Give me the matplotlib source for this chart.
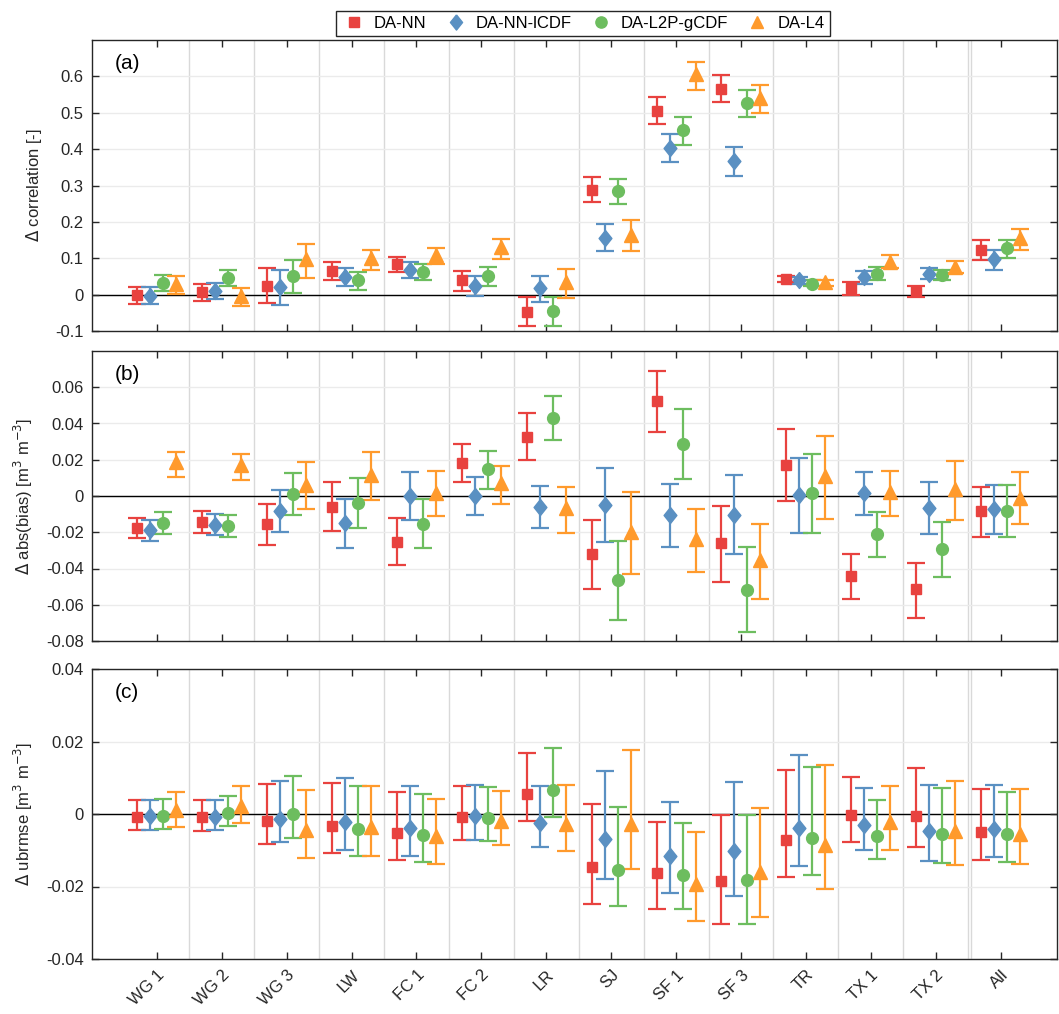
import matplotlib
matplotlib.use('Agg')
from matplotlib import pyplot
from matplotlib.lines import Line2D
import numpy

pyplot.rcParams['font.family'] = ['Liberation Sans', 'DejaVu Sans']
pyplot.rcParams['axes.unicode_minus'] = False

sites = ['WG 1', 'WG 2', 'WG 3', 'LW', 'FC 1', 'FC 2', 'LR', 'SJ',
         'SF 1', 'SF 3', 'TR', 'TX 1', 'TX 2', 'All']
series = ['DA-NN', 'DA-NN-lCDF', 'DA-L2P-gCDF', 'DA-L4']

# (a) delta correlation: value, lower end, upper end
corr_nn = [-0.002, 0.006, 0.025, 0.064, 0.083, 0.041, -0.048, 0.289, 0.506, 0.566, 0.044, 0.018, 0.009, 0.124]
corr_nn_lo = [-0.025, -0.018, -0.023, 0.041, 0.061, 0.011, -0.087, 0.254, 0.469, 0.529, 0.035, -0.002, -0.007, 0.096]
corr_nn_hi = [0.020, 0.028, 0.072, 0.089, 0.103, 0.066, -0.007, 0.324, 0.544, 0.603, 0.052, 0.034, 0.023, 0.150]
corr_lcdf = [-0.005, 0.011, 0.021, 0.049, 0.069, 0.025, 0.018, 0.156, 0.404, 0.367, 0.039, 0.049, 0.058, 0.098]
corr_lcdf_lo = [-0.025, -0.012, -0.028, 0.023, 0.046, -0.003, -0.021, 0.119, 0.364, 0.326, 0.028, 0.028, 0.043, 0.069]
corr_lcdf_hi = [0.020, 0.032, 0.069, 0.072, 0.089, 0.050, 0.050, 0.195, 0.442, 0.406, 0.049, 0.064, 0.072, 0.124]
corr_gcdf = [0.032, 0.046, 0.050, 0.039, 0.062, 0.050, -0.046, 0.284, 0.452, 0.526, 0.030, 0.058, 0.055, 0.128]
corr_gcdf_lo = [0.011, 0.025, 0.005, 0.014, 0.041, 0.023, -0.085, 0.250, 0.412, 0.488, 0.023, 0.039, 0.041, 0.100]
corr_gcdf_hi = [0.054, 0.067, 0.096, 0.062, 0.083, 0.076, -0.007, 0.319, 0.488, 0.562, 0.041, 0.075, 0.069, 0.151]
corr_l4 = [0.030, -0.005, 0.098, 0.102, 0.109, 0.131, 0.036, 0.164, 0.606, 0.540, 0.034, 0.091, 0.077, 0.155]
corr_l4_lo = [0.003, -0.032, 0.046, 0.069, 0.084, 0.099, -0.010, 0.119, 0.563, 0.498, 0.025, 0.072, 0.060, 0.124]
corr_l4_hi = [0.050, 0.018, 0.138, 0.124, 0.128, 0.154, 0.071, 0.204, 0.639, 0.575, 0.041, 0.108, 0.093, 0.180]

# (b) delta abs(bias)
bias_nn = [-0.0174, -0.0144, -0.0156, -0.0061, -0.0252, 0.0183, 0.0328, -0.0322, 0.0522, -0.0261, 0.0169, -0.0441, -0.0515, -0.0085]
bias_nn_lo = [-0.0233, -0.0206, -0.0270, -0.0191, -0.0381, 0.0080, 0.0196, -0.0515, 0.0354, -0.0474, -0.0030, -0.0567, -0.0672, -0.0224]
bias_nn_hi = [-0.0119, -0.0085, -0.0044, 0.0078, -0.0122, 0.0289, 0.0456, -0.0135, 0.0689, -0.0057, 0.0367, -0.0320, -0.0369, 0.0048]
bias_lcdf = [-0.0187, -0.0159, -0.0081, -0.0150, 0.0000, 0.0000, -0.0061, -0.0048, -0.0104, -0.0104, 0.0004, 0.0017, -0.0067, -0.0072]
bias_lcdf_lo = [-0.0248, -0.0215, -0.0200, -0.0289, -0.0131, -0.0106, -0.0174, -0.0252, -0.0281, -0.0322, -0.0204, -0.0107, -0.0211, -0.0211]
bias_lcdf_hi = [-0.0131, -0.0100, 0.0031, -0.0017, 0.0133, 0.0104, 0.0057, 0.0156, 0.0067, 0.0117, 0.0211, 0.0133, 0.0080, 0.0063]
bias_gcdf = [-0.0150, -0.0165, 0.0011, -0.0039, -0.0152, 0.0148, 0.0433, -0.0465, 0.0285, -0.0517, 0.0015, -0.0211, -0.0294, -0.0081]
bias_gcdf_lo = [-0.0209, -0.0224, -0.0107, -0.0178, -0.0289, 0.0041, 0.0311, -0.0683, 0.0094, -0.0752, -0.0204, -0.0335, -0.0446, -0.0228]
bias_gcdf_hi = [-0.0091, -0.0106, 0.0128, 0.0100, -0.0015, 0.0248, 0.0554, -0.0248, 0.0478, -0.0280, 0.0233, -0.0089, -0.0141, 0.0059]
bias_l4 = [0.0185, 0.0172, 0.0063, 0.0117, 0.0017, 0.0069, -0.0067, -0.0196, -0.0237, -0.0354, 0.0109, 0.0020, 0.0037, -0.0009]
bias_l4_lo = [0.0106, 0.0091, -0.0072, -0.0024, -0.0113, -0.0044, -0.0202, -0.0430, -0.0419, -0.0570, -0.0128, -0.0109, -0.0131, -0.0156]
bias_l4_hi = [0.0244, 0.0230, 0.0187, 0.0243, 0.0137, 0.0167, 0.0052, 0.0022, -0.0074, -0.0152, 0.0333, 0.0137, 0.0191, 0.0133]

# (c) delta ubrmse
ubrmse_nn = [-0.0008, -0.0008, -0.0018, -0.0034, -0.0052, -0.0008, 0.0054, -0.0146, -0.0164, -0.0184, -0.0073, -0.0004, -0.0006, -0.0050]
ubrmse_nn_lo = [-0.0043, -0.0047, -0.0083, -0.0107, -0.0128, -0.0072, -0.0019, -0.0247, -0.0261, -0.0303, -0.0174, -0.0076, -0.0092, -0.0127]
ubrmse_nn_hi = [0.0038, 0.0038, 0.0082, 0.0085, 0.0060, 0.0078, 0.0168, 0.0028, -0.0022, -0.0004, 0.0122, 0.0101, 0.0128, 0.0068]
ubrmse_lcdf = [-0.0006, -0.0008, -0.0013, -0.0023, -0.0039, -0.0006, -0.0025, -0.0069, -0.0117, -0.0103, -0.0039, -0.0031, -0.0048, -0.0041]
ubrmse_lcdf_lo = [-0.0043, -0.0045, -0.0077, -0.0098, -0.0115, -0.0071, -0.0091, -0.0179, -0.0217, -0.0227, -0.0144, -0.0100, -0.0130, -0.0118]
ubrmse_lcdf_hi = [0.0039, 0.0038, 0.0090, 0.0099, 0.0076, 0.0079, 0.0077, 0.0118, 0.0032, 0.0088, 0.0163, 0.0071, 0.0079, 0.0081]
ubrmse_gcdf = [-0.0006, 0.0003, 0.0000, -0.0041, -0.0057, -0.0011, 0.0066, -0.0155, -0.0167, -0.0183, -0.0066, -0.0060, -0.0054, -0.0056]
ubrmse_gcdf_lo = [-0.0040, -0.0034, -0.0066, -0.0115, -0.0132, -0.0074, -0.0008, -0.0254, -0.0263, -0.0303, -0.0167, -0.0125, -0.0136, -0.0132]
ubrmse_gcdf_hi = [0.0041, 0.0050, 0.0104, 0.0077, 0.0054, 0.0074, 0.0182, 0.0018, -0.0025, -0.0004, 0.0129, 0.0038, 0.0071, 0.0062]
ubrmse_l4 = [0.0010, 0.0021, -0.0044, -0.0037, -0.0061, -0.0019, -0.0027, -0.0027, -0.0192, -0.0161, -0.0086, -0.0022, -0.0048, -0.0054]
ubrmse_l4_lo = [-0.0036, -0.0025, -0.0120, -0.0115, -0.0139, -0.0086, -0.0102, -0.0151, -0.0295, -0.0284, -0.0206, -0.0098, -0.0142, -0.0139]
ubrmse_l4_hi = [0.0061, 0.0076, 0.0067, 0.0077, 0.0041, 0.0063, 0.0079, 0.0177, -0.0051, 0.0017, 0.0136, 0.0077, 0.0091, 0.0070]

colors = ['#E8423F', '#5A90C2', '#6DBD5F', '#FF9A2C']
diamond = [(0, 1), (0.8, 0), (0, -1), (-0.8, 0), (0, 1)]
markers = ['s', diamond, 'o', '^']
msizes = [7.5, 11.5, 8.5, 9.5]
offsets = [-0.3, -0.1, 0.1, 0.3]

panels = [
    {'label': '(a)', 'ylabel': r'$\Delta$ correlation [-]',
     'ylim': (-0.1, 0.7), 'yticks': numpy.arange(-0.1, 0.65, 0.1),
     'data': [(corr_nn, corr_nn_lo, corr_nn_hi), (corr_lcdf, corr_lcdf_lo, corr_lcdf_hi),
              (corr_gcdf, corr_gcdf_lo, corr_gcdf_hi), (corr_l4, corr_l4_lo, corr_l4_hi)]},
    {'label': '(b)', 'ylabel': r'$\Delta$ abs(bias) [m$^{3}$ m$^{-3}$]',
     'ylim': (-0.08, 0.08), 'yticks': numpy.arange(-0.08, 0.065, 0.02),
     'data': [(bias_nn, bias_nn_lo, bias_nn_hi), (bias_lcdf, bias_lcdf_lo, bias_lcdf_hi),
              (bias_gcdf, bias_gcdf_lo, bias_gcdf_hi), (bias_l4, bias_l4_lo, bias_l4_hi)]},
    {'label': '(c)', 'ylabel': r'$\Delta$ ubrmse [m$^{3}$ m$^{-3}$]',
     'ylim': (-0.04, 0.04), 'yticks': numpy.arange(-0.04, 0.045, 0.02),
     'data': [(ubrmse_nn, ubrmse_nn_lo, ubrmse_nn_hi), (ubrmse_lcdf, ubrmse_lcdf_lo, ubrmse_lcdf_hi),
              (ubrmse_gcdf, ubrmse_gcdf_lo, ubrmse_gcdf_hi), (ubrmse_l4, ubrmse_l4_lo, ubrmse_l4_hi)]},
]

W, H = 1059, 1014
fig = pyplot.figure(figsize=(W / 100, H / 100), dpi=100)
# axes boxes in pixels: left, top, right, bottom
boxes = [(92, 40, 1057, 331), (92, 351, 1057, 641), (92, 669, 1057, 959)]

x = numpy.arange(1, len(sites) + 1)

for k, (panel, box) in enumerate(zip(panels, boxes)):
    l, t, r, b = box
    ax = fig.add_axes([l / W, 1 - b / H, (r - l) / W, (b - t) / H])
    for pos in numpy.arange(1.5, 13.5, 1.0):
        ax.axvline(pos, color='#d9d9d9', lw=1, zorder=0)
    ax.axvline(13.5, color='#d9d9d9', lw=1, zorder=0)
    ax.axvline(13.55, color='#d9d9d9', lw=1, zorder=0)
    for yt in panel['yticks']:
        ax.axhline(yt, color='#ebebeb', lw=1, zorder=0)
    ax.axhline(0, color='black', lw=1, zorder=1)

    for i, (vals, lo, hi) in enumerate(panel['data']):
        vals = numpy.array(vals)
        yerr = [vals - numpy.array(lo), numpy.array(hi) - vals]
        ax.errorbar(x + offsets[i], vals, yerr=yerr, fmt='none', ecolor=colors[i],
                    elinewidth=1.6, capsize=6.5, capthick=1.6, zorder=3)
        ax.plot(x + offsets[i], vals, ls='none', marker=markers[i], color=colors[i],
                ms=msizes[i], mec=colors[i], zorder=4)

    ax.set_xlim(0, 14.87)
    ax.set_ylim(panel['ylim'])
    ax.set_yticks(panel['yticks'])
    ax.set_yticklabels(['%g' % round(v, 3) for v in panel['yticks']])
    ax.set_xticks(x)
    if k == 2:
        ax.set_xticklabels(sites, rotation=45, ha='right', rotation_mode='anchor')
    else:
        ax.set_xticklabels([])
    ax.tick_params(direction='in', top=True, right=True, length=5, width=1,
                   labelsize=12, color='#262626', labelcolor='#262626', pad=6)
    for sp in ax.spines.values():
        sp.set_color('#262626')
        sp.set_linewidth(1)
    ax.set_ylabel(panel['ylabel'], fontsize=12, color='#262626', labelpad=8)
    ax.text(0.024, 0.92, panel['label'], transform=ax.transAxes, fontsize=15,
            va='center', ha='left')

handles = [Line2D([], [], ls='none', marker=markers[i], color=colors[i],
                  ms=msizes[i] * 0.95) for i in range(4)]
fig.legend(handles, series, loc='center', ncol=4, bbox_to_anchor=(583 / W, 1 - 23.5 / H),
           frameon=True, fancybox=False, edgecolor='#262626', fontsize=12,
           handlelength=1.5, handletextpad=0.45, columnspacing=1.0,
           borderpad=0.3, framealpha=1)

fig.savefig('out.png', dpi=100)
